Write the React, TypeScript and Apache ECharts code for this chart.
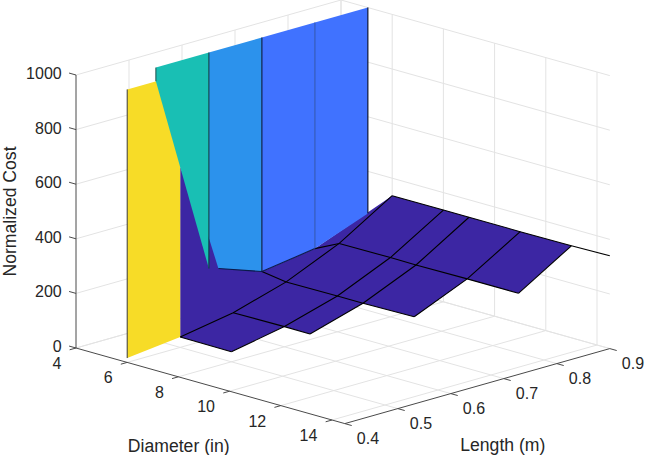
import React, { useEffect, useRef } from "react";
import * as echarts from "echarts";

// Ticks
const diameterTicks = [4, 6, 8, 10, 12, 14];
const lengthTicks = [0.4, 0.5, 0.6, 0.7, 0.8, 0.9];
const costTicks = [0, 200, 400, 600, 800, 1000];
const diameterLimits = [4, 14.5];
const lengthLimits = [0.4, 0.9];
const costLimits = [0, 1000];

// Surface nodes, low region (columns = diameterNodes)
const diameterNodes = [6, 8, 9, 11, 13, 14.5];
const lengthNodes = [0.5, 0.6, 0.7, 0.8, 0.9];
const cost05 = [38, 37, null, null, null, null];
const cost06 = [72, 74, 73, null, null, null];
const cost07 = [130, 131, 131, 134, null, null];
const cost08 = [216, 217, 216, 218, 218, null];
const cost09 = [336, 336, 336, 336, 337, 340];
const costRows = [cost05, cost06, cost07, cost08, cost09];

// Steep wall, clipped at the top of the cost axis
const wallDiameter = 5.05;
const wallLengths = [0.5, 0.6, 0.7, 0.8, 0.9];
const wallLowCost = [950, 209, 143, 172, 246];
const wallColors = ["#19BFB4", "#2C92EC", "#4072FF", "#4072FF"];
const firstCellLowCost = 16;
const foldCost = 662;
const foldLowCost = 321;
const foldNode = [0.618, 199];

const YELLOW = "#F7DC27";
const PURPLE = "#3C26A3";
const GRID = "#E3E3E3";
const AXIS = "#4A4A4A";
const TEXT = "#262626";
const FONT = '"Liberation Sans", Arial, sans-serif';

type P3 = [number, number, number];

// oblique projection of (diameter, length, cost) to the plane of the hidden axes
function project([d, l, c]: P3): [number, number] {
  return [
    76 + 25.6 * (d - 4) + 530 * (l - 0.4),
    348 + 7.2 * (d - 4) - 150 * (l - 0.4) - 0.273 * c,
  ];
}

const [dMin, dMax] = diameterLimits;
const [lMin, lMax] = lengthLimits;
const [cMin, cMax] = costLimits;

// ---- line lists -----------------------------------------------------------
type Seg = { pts: P3[]; color: string; width: number };

const gridLines: Seg[] = [];
diameterTicks.forEach((d) => {
  gridLines.push({ pts: [[d, lMin, cMin], [d, lMax, cMin], [d, lMax, cMax]], color: GRID, width: 1 });
});
lengthTicks.forEach((l) => {
  if (l !== lMin) gridLines.push({ pts: [[dMax, l, cMin], [dMin, l, cMin], [dMin, l, cMax]], color: GRID, width: 1 });
});
costTicks.forEach((c) => {
  gridLines.push({ pts: [[dMin, lMin, c], [dMin, lMax, c], [dMax, lMax, c]], color: GRID, width: 1 });
});

const axisLines: Seg[] = [
  { pts: [[dMin, lMin, cMin], [dMin, lMin, cMax]], color: AXIS, width: 1 },
  { pts: [[dMin, lMin, cMin], [dMax, lMin, cMin]], color: AXIS, width: 1 },
  { pts: [[dMax, lMin, cMin], [dMax, lMax, cMin]], color: AXIS, width: 1 },
];
costTicks.forEach((c) => axisLines.push({ pts: [[dMin, lMin, c], [dMin - 0.27, lMin, c]], color: AXIS, width: 1 }));
diameterTicks.forEach((d) => axisLines.push({ pts: [[d, lMin, cMin], [d, lMin - 0.012, cMin]], color: AXIS, width: 1 }));
lengthTicks.forEach((l) => axisLines.push({ pts: [[dMax, l, cMin], [dMax + 0.27, l, cMin]], color: AXIS, width: 1 }));

// ---- surface --------------------------------------------------------------
type Face = { pts: P3[]; color: string };

const node = (r: number, c: number): P3 => [diameterNodes[c], lengthNodes[r], costRows[r][c] as number];
const wallAt = (i: number, c: number): P3 => [wallDiameter, wallLengths[i], c];

const floorOutline: P3[] = [
  [6, wallLengths[0], foldCost],
  wallAt(1, foldLowCost),
  wallAt(2, wallLowCost[2]),
  wallAt(3, wallLowCost[3]),
  node(4, 0), node(4, 1), node(4, 2), node(4, 3), node(4, 4),
  node(3, 4), node(3, 3),
  node(2, 3), node(2, 2),
  node(1, 2), node(1, 1),
  node(0, 1), node(0, 0),
];

const faces: Face[] = [
  { pts: floorOutline, color: PURPLE },
  {
    pts: [
      [6, lMin, cMax], [6, wallLengths[0], cMax],
      [6, wallLengths[0], cost05[0] as number], [6, lMin, firstCellLowCost],
    ],
    color: YELLOW,
  },
  {
    pts: [wallAt(0, cMax), wallAt(1, cMax), wallAt(1, wallLowCost[1]), wallAt(0, wallLowCost[0])],
    color: wallColors[0],
  },
  {
    pts: [
      wallAt(1, cMax), wallAt(2, cMax), wallAt(2, wallLowCost[2]),
      [wallDiameter, foldNode[0], foldNode[1]], wallAt(1, foldLowCost),
    ],
    color: wallColors[1],
  },
  { pts: [wallAt(2, cMax), wallAt(3, cMax), wallAt(3, wallLowCost[3]), wallAt(2, wallLowCost[2])], color: wallColors[2] },
  { pts: [wallAt(3, cMax), wallAt(4, cMax), wallAt(4, wallLowCost[4]), wallAt(3, wallLowCost[3])], color: wallColors[3] },
];

const meshLines: Seg[] = [];
const BLACK = "#000000";
costRows.forEach((row, r) => {
  const pts: P3[] = [];
  row.forEach((v, c) => { if (v !== null) pts.push(node(r, c)); });
  meshLines.push({ pts, color: BLACK, width: 1.1 });
});
diameterNodes.forEach((_, c) => {
  const pts: P3[] = [];
  costRows.forEach((row, r) => { if (row[c] !== null) pts.push(node(r, c)); });
  if (pts.length > 1) meshLines.push({ pts, color: BLACK, width: 1.1 });
});
meshLines.push({ pts: [wallAt(2, wallLowCost[2]), node(2, 0)], color: BLACK, width: 1.1 });
meshLines.push({ pts: [wallAt(3, wallLowCost[3]), node(3, 0)], color: BLACK, width: 1.1 });
meshLines.push({
  pts: [[wallDiameter, foldNode[0], foldNode[1]], wallAt(2, wallLowCost[2]), wallAt(3, wallLowCost[3])],
  color: "#0A1A4A",
  width: 1.1,
});
meshLines.push({ pts: [[6, lMin, cMax], [6, lMin, firstCellLowCost]], color: "#3A3A3A", width: 1 });
meshLines.push({ pts: [wallAt(0, cMax), wallAt(0, wallLowCost[0])], color: "#1F4F4A", width: 1 });
meshLines.push({ pts: [wallAt(1, cMax), wallAt(1, wallLowCost[1])], color: "#0B3F44", width: 1.1 });
meshLines.push({ pts: [wallAt(2, cMax), wallAt(2, wallLowCost[2])], color: "#07183A", width: 1.1 });
meshLines.push({ pts: [wallAt(3, cMax), wallAt(3, wallLowCost[3])], color: "#2F55B5", width: 1.1 });
meshLines.push({ pts: [wallAt(4, cMax), wallAt(4, wallLowCost[4])], color: "#050A20", width: 1.1 });

// ---- texts ----------------------------------------------------------------
type Label = { text: string; anchor: P3; dx: number; dy: number; align: string; size: number; rot?: number };

const labels: Label[] = [
  ...costTicks.map((c) => ({ text: String(c), anchor: [dMin, lMin, c] as P3, dx: -14.3, dy: -1.5, align: "right", size: 16 })),
  ...diameterTicks.map((d) => ({ text: String(d), anchor: [d, lMin, cMin] as P3, dx: -14.6, dy: 15.5, align: "right", size: 16 })),
  ...lengthTicks.map((l) => ({ text: l.toFixed(1), anchor: [dMax, l, cMin] as P3, dx: 12, dy: 15, align: "left", size: 16 })),
  { text: "Normalized Cost", anchor: [dMin, lMin, 500], dx: -66, dy: 0, align: "center", size: 17.6, rot: Math.PI / 2 },
  { text: "Diameter (in)", anchor: [9, lMin, cMin], dx: -25.3, dy: 62, align: "center", size: 17.6 },
  { text: "Length (m)", anchor: [dMax, 0.6, cMin], dx: 52, dy: 51, align: "center", size: 17.6 },
];

function lineSeries(list: Seg[]) {
  return {
    type: "custom",
    silent: true,
    clip: false,
    coordinateSystem: "cartesian2d",
    data: list.map((_, i) => [i]),
    renderItem: (params: any, api: any) => {
      const s = list[api.value(0)];
      return {
        type: "polyline",
        shape: { points: s.pts.map((p) => api.coord(project(p))) },
        style: { stroke: s.color, lineWidth: s.width, fill: "none" },
      };
    },
  };
}

function faceSeries() {
  return {
    type: "custom",
    silent: true,
    clip: false,
    coordinateSystem: "cartesian2d",
    data: faces.map((_, i) => [i]),
    renderItem: (params: any, api: any) => {
      const f = faces[api.value(0)];
      return {
        type: "polygon",
        shape: { points: f.pts.map((p) => api.coord(project(p))) },
        style: { fill: f.color },
      };
    },
  };
}

function labelSeries() {
  return {
    type: "custom",
    silent: true,
    clip: false,
    coordinateSystem: "cartesian2d",
    data: labels.map((_, i) => [i]),
    renderItem: (params: any, api: any) => {
      const l = labels[api.value(0)];
      const [ax, ay] = project(l.anchor);
      const [x, y] = api.coord([ax + l.dx, ay + l.dy]);
      return {
        type: "text",
        x,
        y,
        rotation: l.rot ?? 0,
        style: {
          text: l.text,
          fill: TEXT,
          font: `${l.size}px ${FONT}`,
          align: l.align,
          verticalAlign: "middle",
        },
      };
    },
  };
}

export default function App() {
  const ref = useRef<HTMLDivElement>(null);
  useEffect(() => {
    const chart = echarts.init(ref.current!, undefined, { renderer: "svg" });
    chart.setOption({
      animation: false,
      backgroundColor: "#ffffff",
      grid: { left: 0, top: 0, width: 646, height: 455, containLabel: false },
      xAxis: { type: "value", min: 0, max: 646, show: false },
      yAxis: { type: "value", min: 0, max: 455, inverse: true, show: false },
      series: [lineSeries(gridLines), lineSeries(axisLines), faceSeries(), lineSeries(meshLines), labelSeries()],
    } as any);
    return () => chart.dispose();
  }, []);
  return <div ref={ref} style={{ position: "absolute", left: 0, top: 0, width: 646, height: 455 }} />;
}
